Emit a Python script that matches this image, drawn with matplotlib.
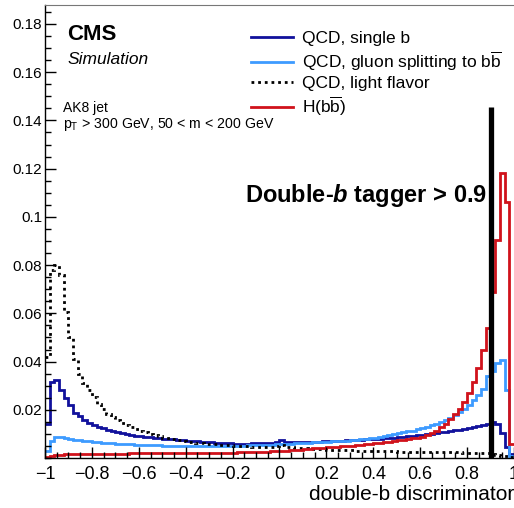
import numpy as np
import matplotlib
matplotlib.use("Agg")
import matplotlib.pyplot as plt
from matplotlib.ticker import FixedLocator, MultipleLocator, FuncFormatter
from matplotlib.lines import Line2D

plt.rcParams['font.family'] = ['Liberation Sans', 'DejaVu Sans']
plt.rcParams['mathtext.fontset'] = 'custom'
plt.rcParams['mathtext.rm'] = 'Liberation Sans'
plt.rcParams['mathtext.it'] = 'Liberation Sans:italic'
plt.rcParams['mathtext.bf'] = 'Liberation Sans:bold'
plt.rcParams['mathtext.bfit'] = 'Liberation Sans:bold:italic'

# 100 bins of the double-b discriminator, normalised to unit area
n_bins = 100
x_lo, x_hi = -1.0, 1.0

qcd_single_b = [
    0.0142, 0.0317, 0.0322, 0.0282, 0.0247, 0.0219, 0.0187, 0.0173, 0.0159, 0.0145,
    0.0135, 0.0128, 0.0124, 0.0118, 0.0112, 0.0107, 0.0103, 0.0099, 0.0096, 0.0093,
    0.0090, 0.0088, 0.0086, 0.0084, 0.0082, 0.0080, 0.0079, 0.0077, 0.0075, 0.0074,
    0.0072, 0.0071, 0.0069, 0.0068, 0.0066, 0.0065, 0.0064, 0.0063, 0.0062, 0.0061,
    0.0060, 0.0060, 0.0060, 0.0060, 0.0061, 0.0061, 0.0062, 0.0062, 0.0064, 0.0067,
    0.0073, 0.0067, 0.0066, 0.0066, 0.0066, 0.0067, 0.0067, 0.0068, 0.0068, 0.0069,
    0.0070, 0.0070, 0.0071, 0.0072, 0.0073, 0.0074, 0.0075, 0.0076, 0.0077, 0.0078,
    0.0079, 0.0080, 0.0082, 0.0083, 0.0085, 0.0087, 0.0089, 0.0091, 0.0093, 0.0095,
    0.0097, 0.0099, 0.0101, 0.0103, 0.0106, 0.0109, 0.0112, 0.0115, 0.0118, 0.0121,
    0.0124, 0.0128, 0.0132, 0.0136, 0.0141, 0.0148, 0.0142, 0.0105, 0.0045, 0.0015,
]

qcd_gluon_split = [
    0.0030, 0.0072, 0.0088, 0.0086, 0.0082, 0.0079, 0.0076, 0.0073, 0.0071, 0.0069,
    0.0067, 0.0066, 0.0064, 0.0063, 0.0062, 0.0060, 0.0059, 0.0058, 0.0057, 0.0056,
    0.0055, 0.0054, 0.0053, 0.0052, 0.0052, 0.0051, 0.0051, 0.0050, 0.0050, 0.0050,
    0.0050, 0.0049, 0.0049, 0.0049, 0.0049, 0.0049, 0.0049, 0.0050, 0.0050, 0.0050,
    0.0050, 0.0051, 0.0051, 0.0052, 0.0052, 0.0053, 0.0054, 0.0055, 0.0056, 0.0057,
    0.0058, 0.0059, 0.0060, 0.0061, 0.0062, 0.0063, 0.0064, 0.0065, 0.0066, 0.0067,
    0.0068, 0.0069, 0.0070, 0.0071, 0.0072, 0.0074, 0.0076, 0.0078, 0.0080, 0.0082,
    0.0084, 0.0087, 0.0090, 0.0094, 0.0098, 0.0102, 0.0106, 0.0110, 0.0114, 0.0119,
    0.0124, 0.0129, 0.0135, 0.0142, 0.0149, 0.0157, 0.0167, 0.0177, 0.0190, 0.0203,
    0.0218, 0.0240, 0.0262, 0.0285, 0.0340, 0.0360, 0.0394, 0.0408, 0.0280, 0.0010,
]

qcd_light = [
    0.0420, 0.0780, 0.0800, 0.0760, 0.0607, 0.0503, 0.0410, 0.0350, 0.0310, 0.0280,
    0.0254, 0.0226, 0.0205, 0.0184, 0.0170, 0.0156, 0.0145, 0.0135, 0.0127, 0.0120,
    0.0114, 0.0107, 0.0101, 0.0095, 0.0090, 0.0085, 0.0081, 0.0077, 0.0074, 0.0071,
    0.0068, 0.0066, 0.0064, 0.0062, 0.0060, 0.0059, 0.0057, 0.0055, 0.0054, 0.0052,
    0.0051, 0.0050, 0.0049, 0.0048, 0.0047, 0.0046, 0.0046, 0.0045, 0.0046, 0.0048,
    0.0052, 0.0046, 0.0044, 0.0042, 0.0041, 0.0040, 0.0039, 0.0038, 0.0037, 0.0036,
    0.0035, 0.0034, 0.0033, 0.0033, 0.0032, 0.0032, 0.0031, 0.0031, 0.0030, 0.0030,
    0.0029, 0.0029, 0.0028, 0.0028, 0.0028, 0.0027, 0.0027, 0.0027, 0.0026, 0.0026,
    0.0026, 0.0025, 0.0025, 0.0025, 0.0024, 0.0024, 0.0024, 0.0023, 0.0023, 0.0022,
    0.0022, 0.0022, 0.0021, 0.0021, 0.0020, 0.0018, 0.0014, 0.0010, 0.0007, 0.0004,
]

higgs_bb = [
    0.0003, 0.0008, 0.0012, 0.0014, 0.0015, 0.0016, 0.0016, 0.0017, 0.0017, 0.0017,
    0.0017, 0.0018, 0.0018, 0.0018, 0.0018, 0.0018, 0.0018, 0.0018, 0.0019, 0.0019,
    0.0019, 0.0019, 0.0019, 0.0019, 0.0020, 0.0020, 0.0020, 0.0020, 0.0020, 0.0020,
    0.0020, 0.0020, 0.0020, 0.0020, 0.0021, 0.0021, 0.0021, 0.0021, 0.0022, 0.0022,
    0.0022, 0.0023, 0.0023, 0.0024, 0.0025, 0.0025, 0.0026, 0.0027, 0.0028, 0.0029,
    0.0030, 0.0031, 0.0033, 0.0034, 0.0035, 0.0037, 0.0038, 0.0040, 0.0041, 0.0043,
    0.0045, 0.0046, 0.0047, 0.0049, 0.0050, 0.0051, 0.0053, 0.0055, 0.0057, 0.0059,
    0.0062, 0.0064, 0.0066, 0.0068, 0.0070, 0.0073, 0.0075, 0.0078, 0.0081, 0.0084,
    0.0088, 0.0096, 0.0105, 0.0114, 0.0128, 0.0142, 0.0163, 0.0184, 0.0205, 0.0233,
    0.0268, 0.0317, 0.0373, 0.0450, 0.0538, 0.0688, 0.0905, 0.1180, 0.1060, 0.0060,
]

labels = ["QCD, single b",
          r"QCD, gluon splitting to b$\overline{\mathrm{b}}$",
          "QCD, light flavor",
          r"H(b$\overline{\mathrm{b}}$)"]
colors = ["#11119c", "#3d9bff", "black", "#d0121b"]
styles = ["-", "-", (0, (1, 1.4)), "-"]

tagger_cut = 0.9
cut_line_top = 0.1456

edges = np.linspace(x_lo, x_hi, n_bins + 1)

fig = plt.figure(figsize=(5.14, 5.08), dpi=100)
ax = fig.add_axes([0.0875, 0.0984, 0.9125, 0.8924])

series = [qcd_single_b, qcd_gluon_split, qcd_light, higgs_bb]
for vals, col, ls in zip(series, colors, styles):
    ax.stairs(vals, edges, baseline=None, color=col, linestyle=ls, linewidth=2.0)

ax.vlines(tagger_cut, 0, cut_line_top, color="black", linewidth=3.8)

ax.set_xlim(x_lo, x_hi)
ax.set_ylim(0, 0.188)

ax.xaxis.set_major_locator(MultipleLocator(0.2))
ax.xaxis.set_minor_locator(MultipleLocator(0.05))
ax.yaxis.set_major_locator(FixedLocator([0.02, 0.04, 0.06, 0.08, 0.10, 0.12, 0.14, 0.16, 0.18]))
ax.yaxis.set_minor_locator(MultipleLocator(0.005))
ax.xaxis.set_major_formatter(FuncFormatter(lambda v, p: ("%g" % round(v, 2)).replace("-", "\u2212")))
ax.yaxis.set_major_formatter(FuncFormatter(lambda v, p: "%g" % round(v, 3)))

ax.tick_params(which="both", direction="in", top=False, right=False, width=1)
ax.tick_params(which="major", length=8)
ax.tick_params(which="minor", length=4.5)
ax.tick_params(axis="x", labelsize=13, pad=6)
ax.tick_params(axis="y", labelsize=11, pad=2)

ax.spines["right"].set_visible(False)
ax.spines["top"].set_color("#777777")
for s in ["left", "bottom"]:
    ax.spines[s].set_linewidth(1)

ax.set_xlabel("double-b discriminator", loc="right", fontsize=15, labelpad=1)

ax.text(0.047, 0.922, "CMS", transform=ax.transAxes, fontsize=16, fontweight="bold")
ax.text(0.047, 0.869, "Simulation", transform=ax.transAxes, fontsize=12.5, fontstyle="italic")
ax.text(0.038, 0.763, "AK8 jet", transform=ax.transAxes, fontsize=10)
ax.text(0.038, 0.728, r"p$_{\mathrm{T}}$ > 300 GeV, 50 < m < 200 GeV",
        transform=ax.transAxes, fontsize=10.2)
ax.text(0.942, 0.565, r"Double-$\mathbfit{b}$ tagger > 0.9", transform=ax.transAxes,
        fontsize=17, fontweight="bold", ha="right")

handles = [Line2D([], [], color=c, linestyle=s, linewidth=2.0) for c, s in zip(colors, styles)]
ax.legend(handles, labels, loc="upper left", bbox_to_anchor=(0.425, 0.958),
          frameon=False, fontsize=12.5, handlelength=2.4, handletextpad=0.5,
          labelspacing=0.2, borderaxespad=0)

fig.savefig("out.png", dpi=100)
